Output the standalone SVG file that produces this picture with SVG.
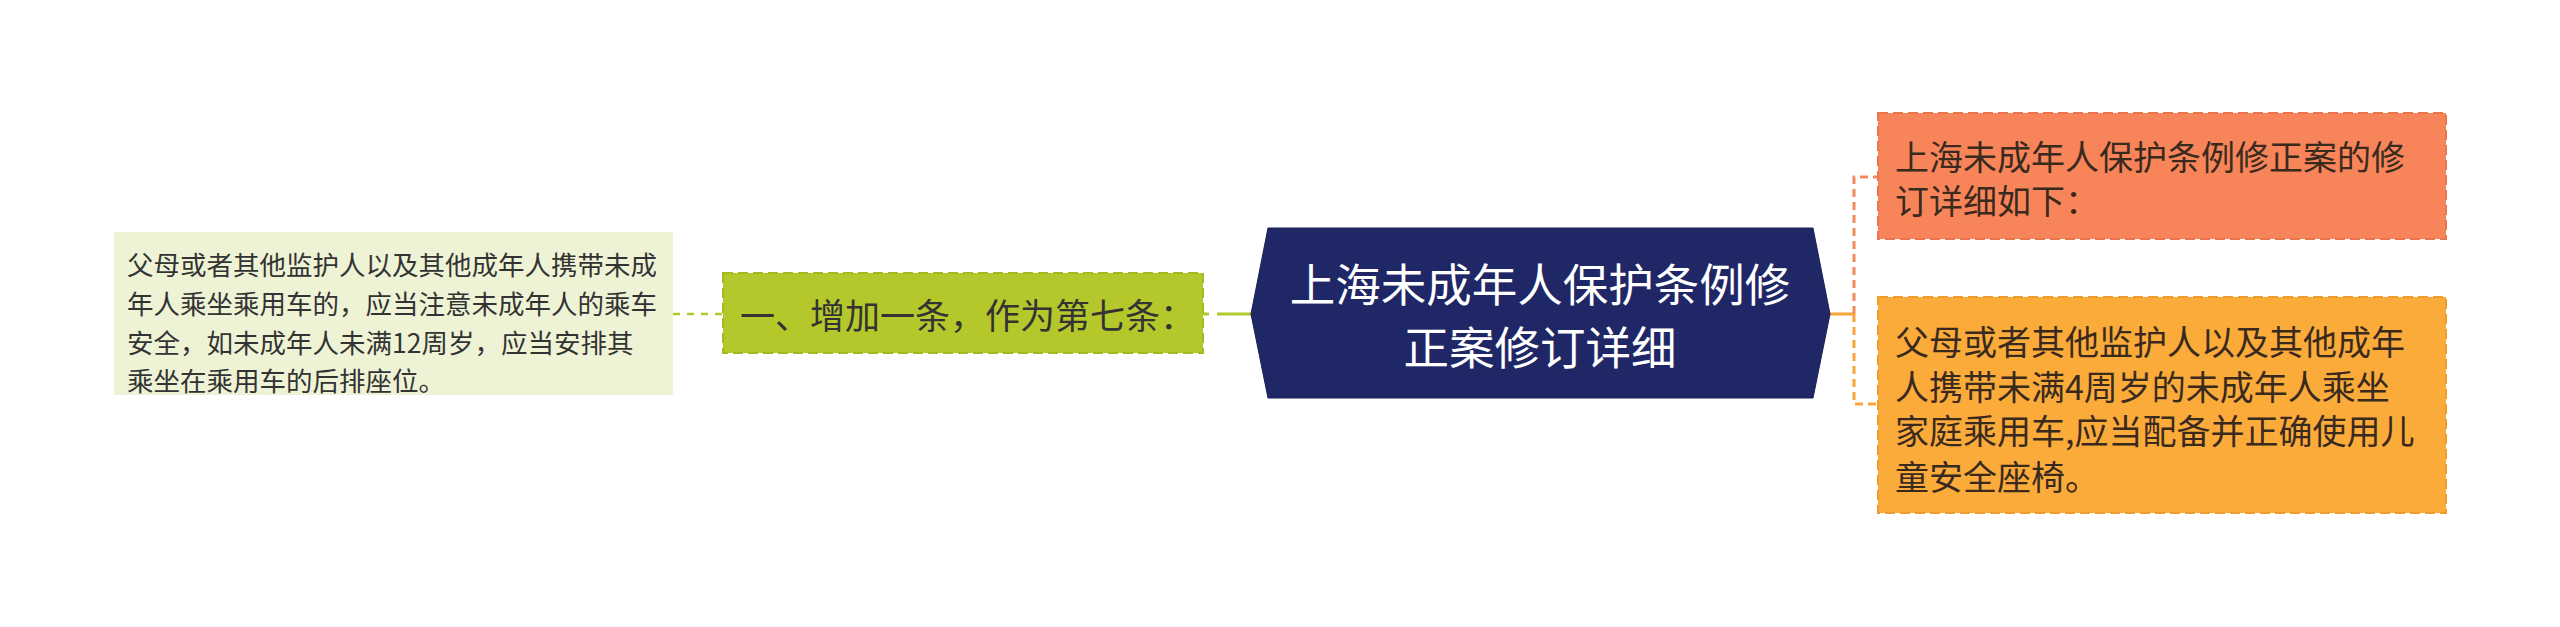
<svg xmlns="http://www.w3.org/2000/svg" width="2560" height="627" viewBox="0 0 2560 627">
<style>
text{font-family:"Noto Sans CJK SC","Noto Sans",sans-serif;}
.c{fill:#ffffff;font-size:45.5px;}
.r{fill:#3a2a1e;font-size:34px;}
.g{fill:#333333;font-size:35px;}
.l{fill:#333333;font-size:26.5px;}
</style>
<rect width="2560" height="627" fill="#ffffff"/>
<g id="connectors" fill="none">
<line x1="1217" y1="314" x2="1252" y2="314" stroke="#B4C72B" stroke-width="3"/>
<line x1="1203" y1="314" x2="1209" y2="314" stroke="#B4C72B" stroke-width="3"/>
<line x1="673" y1="314" x2="723" y2="314" stroke="#B4C72B" stroke-width="2.5" stroke-dasharray="7,7"/>
<line x1="1829" y1="314" x2="1854" y2="314" stroke="#F9A53A" stroke-width="3"/>
<path d="M1854,314 V177 H1878" stroke="#F08A5D" stroke-width="3" stroke-dasharray="8,5"/>
<path d="M1854,314 V404 H1878" stroke="#F9A53A" stroke-width="3" stroke-dasharray="8,5"/>
</g>
<g id="central">
<polygon points="1268,228 1813,228 1830,314 1813,398 1268,398 1251,314" fill="#1F2766" stroke="#1a1f55" stroke-width="1"/>
<text class="c" text-anchor="middle" dominant-baseline="central"><tspan x="1540" y="282">上海未成年人保护条例修</tspan><tspan x="1540" y="345">正案修订详细</tspan></text>
</g>
<g id="right-top">
<rect x="1878" y="113" width="568" height="126" fill="#F8845A" stroke="#E8754D" stroke-width="2" stroke-dasharray="10,5"/>
<text class="r" dominant-baseline="central"><tspan x="1895" y="155">上海未成年人保护条例修正案的修</tspan><tspan x="1895" y="199">订详细如下：</tspan></text>
</g>
<g id="right-bottom">
<rect x="1878" y="297" width="568" height="216" fill="#FBAB3A" stroke="#EE9D2E" stroke-width="2" stroke-dasharray="10,5"/>
<text class="r" dominant-baseline="central"><tspan x="1895" y="340">父母或者其他监护人以及其他成年</tspan><tspan x="1895" y="385">人携带未满4周岁的未成年人乘坐</tspan><tspan x="1895" y="429">家庭乘用车,应当配备并正确使用儿</tspan><tspan x="1895" y="475">童安全座椅。</tspan></text>
</g>
<g id="branch-left">
<rect x="723" y="273" width="480" height="80" fill="#B4C72B" stroke="#A4B822" stroke-width="2" stroke-dasharray="10,5"/>
<text class="g" x="740" y="313" dominant-baseline="central">一、增加一条，作为第七条：</text>
</g>
<g id="leaf-left">
<rect x="114" y="232" width="559" height="163" fill="#EFF3D6"/>
<text class="l" dominant-baseline="central"><tspan x="127" y="263">父母或者其他监护人以及其他成年人携带未成</tspan><tspan x="127" y="302">年人乘坐乘用车的，应当注意未成年人的乘车</tspan><tspan x="127" y="341">安全，如未成年人未满12周岁，应当安排其</tspan><tspan x="127" y="379">乘坐在乘用车的后排座位。</tspan></text>
</g>
</svg>
